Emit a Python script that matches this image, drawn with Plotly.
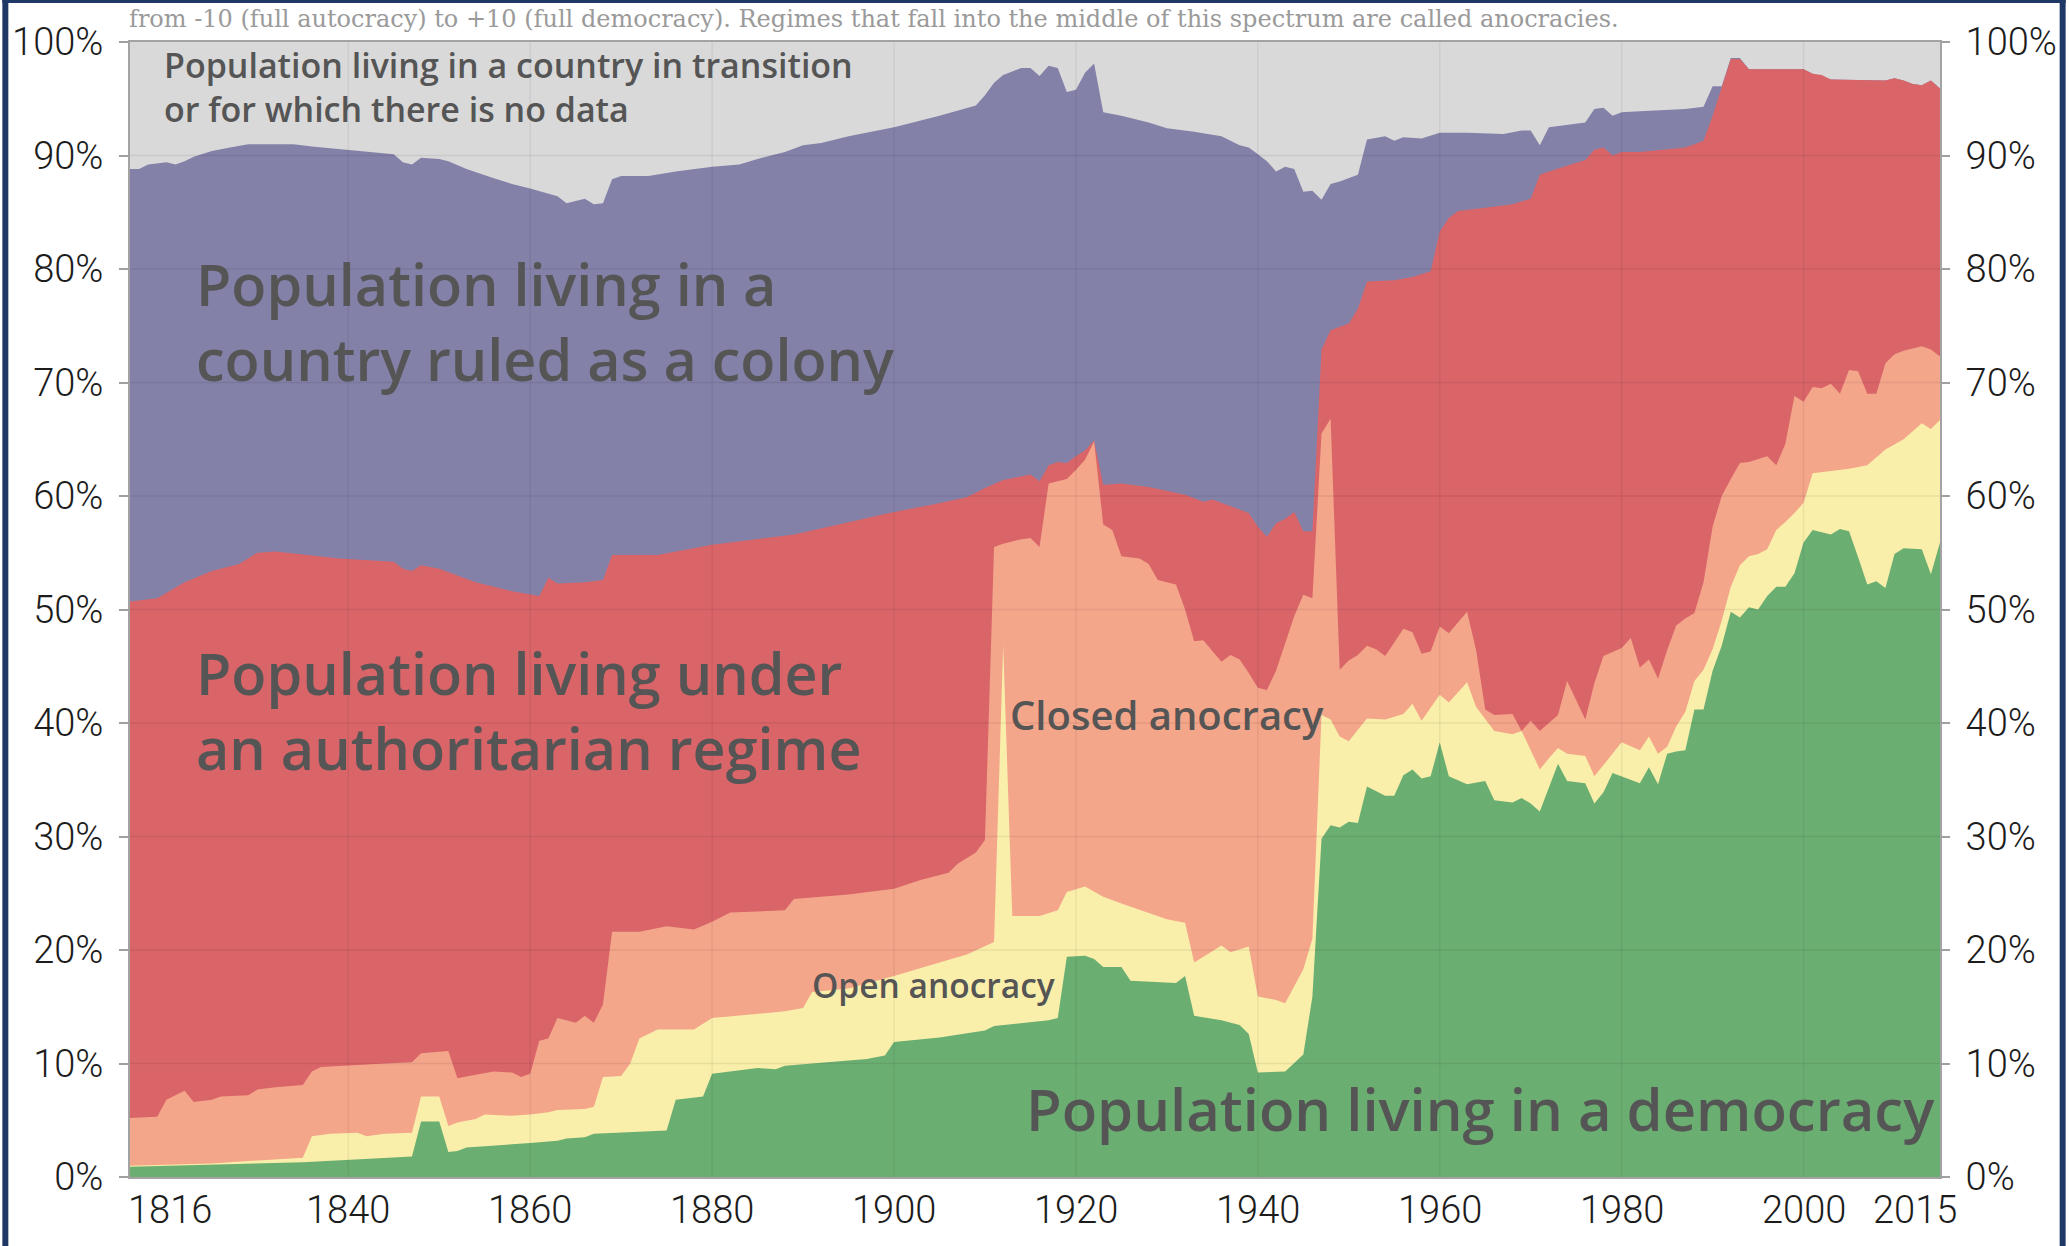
import plotly.graph_objects as go

# ---------------- data (upper edge of each stacked band, % of world population) -------------
colony_top_years = [1816, 1817, 1818, 1820, 1821, 1822, 1823, 1825, 1827, 1829, 1831, 1834, 1836, 1841, 1843,
                    1845, 1846, 1847, 1848, 1850, 1851, 1853, 1856, 1858, 1860, 1862, 1863, 1864, 1866, 1867,
                    1868, 1869, 1870, 1873, 1876, 1880, 1883, 1885, 1888, 1890, 1892, 1895, 1900, 1905, 1909,
                    1910, 1911, 1912, 1914, 1915, 1916, 1917, 1918, 1919, 1920, 1921, 1922, 1923, 1925, 1928,
                    1930, 1933, 1936, 1938, 1939, 1940, 1941, 1942, 1943, 1944, 1945, 1946, 1947, 1948, 1949,
                    1951, 1952, 1954, 1955, 1956, 1958, 1960, 1963, 1967, 1969, 1970, 1971, 1972, 1976, 1977,
                    1978, 1979, 1980, 1982, 1987, 1989, 1990, 1991, 1992, 1993, 1994, 2000, 2001, 2003, 2009,
                    2010, 2011, 2012, 2013, 2014, 2015]
colony_top = [88.8, 88.8, 89.2, 89.4, 89.2, 89.5, 89.9, 90.4, 90.7, 91.0, 91.0, 91.0, 90.8, 90.4, 90.3,
              90.1, 89.4, 89.2, 89.8, 89.7, 89.5, 88.8, 88.0, 87.5, 87.1, 86.6, 86.4, 85.8, 86.2, 85.7,
              85.8, 87.9, 88.2, 88.2, 88.6, 89.0, 89.2, 89.7, 90.3, 90.9, 91.1, 91.7, 92.5, 93.5, 94.4,
              95.3, 96.4, 97.1, 97.7, 97.7, 97.0, 97.9, 97.7, 95.6, 95.8, 97.3, 98.1, 93.8, 93.5, 92.9,
              92.4, 92.1, 91.7, 90.9, 90.7, 90.1, 89.5, 88.6, 89.0, 88.8, 86.8, 86.9, 86.1, 87.5, 87.7,
              88.3, 91.4, 91.7, 91.3, 91.6, 91.5, 92.0, 92.0, 91.9, 92.2, 92.2, 90.9, 92.5, 92.9, 94.1,
              94.2, 93.5, 93.8, 93.9, 94.1, 94.3, 96.1, 96.1, 98.6, 98.6, 97.6, 97.6, 97.2, 96.7, 96.6,
              96.8, 96.6, 96.3, 96.2, 96.6, 95.9]

autocracy_top_years = [1816, 1819, 1822, 1825, 1828, 1830, 1832, 1839, 1845, 1846, 1847, 1848, 1850, 1851,
                       1854, 1858, 1860, 1861, 1862, 1863, 1866, 1868, 1869, 1874, 1880, 1889, 1900, 1904,
                       1908, 1910, 1912, 1915, 1916, 1917, 1918, 1919, 1920, 1921, 1922, 1923, 1925, 1928,
                       1932, 1934, 1935, 1936, 1937, 1939, 1940, 1941, 1942, 1943, 1944, 1945, 1946, 1947,
                       1948, 1950, 1951, 1952, 1955, 1957, 1959, 1960, 1961, 1962, 1965, 1968, 1970, 1971,
                       1972, 1974, 1976, 1977, 1978, 1979, 1980, 1982, 1987, 1988, 1989, 1990, 1991, 1992,
                       1993, 1994, 2000, 2001, 2002, 2003, 2009, 2010, 2011, 2012, 2013, 2014, 2015]
autocracy_top = [50.7, 51.0, 52.4, 53.4, 54.0, 55.0, 55.1, 54.5, 54.2, 53.6, 53.4, 53.9, 53.6, 53.3,
                 52.4, 51.6, 51.3, 51.2, 52.8, 52.3, 52.4, 52.6, 54.8, 54.8, 55.7, 56.6, 58.6, 59.2,
                 59.9, 60.7, 61.4, 61.9, 61.3, 62.7, 63.0, 62.9, 63.5, 64.0, 64.9, 61.0, 61.1, 60.8,
                 60.1, 59.5, 59.7, 59.4, 59.1, 58.5, 57.3, 56.4, 57.6, 58.0, 58.6, 56.9, 56.9, 72.9,
                 74.6, 75.2, 76.5, 78.9, 79.0, 79.3, 79.8, 83.3, 84.5, 85.1, 85.4, 85.7, 86.2, 88.3,
                 88.6, 89.1, 89.6, 90.5, 90.7, 90.0, 90.3, 90.3, 90.7, 91.0, 91.3, 93.5, 96.0, 98.5,
                 98.5, 97.6, 97.6, 97.2, 97.1, 96.7, 96.6, 96.8, 96.6, 96.3, 96.2, 96.6, 95.9]

closed_anocracy_top_years = [1816, 1819, 1820, 1822, 1823, 1825, 1826, 1829, 1830, 1832, 1835, 1836, 1837,
                             1841, 1844, 1847, 1848, 1851, 1852, 1854, 1856, 1858, 1859, 1860, 1861, 1862,
                             1863, 1865, 1866, 1867, 1868, 1869, 1872, 1875, 1878, 1880, 1882, 1888, 1889,
                             1895, 1900, 1903, 1906, 1907, 1909, 1910, 1911, 1912, 1914, 1915, 1916, 1917,
                             1918, 1919, 1920, 1921, 1922, 1923, 1924, 1925, 1927, 1928, 1929, 1931, 1932,
                             1933, 1934, 1935, 1936, 1937, 1938, 1939, 1940, 1941, 1942, 1943, 1944, 1945,
                             1946, 1947, 1948, 1949, 1950, 1951, 1952, 1953, 1954, 1955, 1956, 1957, 1958,
                             1959, 1960, 1961, 1963, 1964, 1965, 1966, 1968, 1969, 1970, 1971, 1973, 1974,
                             1975, 1976, 1977, 1978, 1980, 1981, 1982, 1983, 1984, 1985, 1986, 1987, 1988,
                             1989, 1990, 1991, 1992, 1993, 1994, 1996, 1997, 1998, 1999, 2000, 2001, 2002,
                             2003, 2004, 2005, 2006, 2007, 2008, 2009, 2010, 2011, 2013, 2014, 2015]
closed_anocracy_top = [5.2, 5.3, 6.8, 7.6, 6.6, 6.8, 7.1, 7.2, 7.7, 7.9, 8.1, 9.3, 9.7,
                       9.9, 10.0, 10.1, 10.9, 11.1, 8.7, 9.0, 9.3, 9.2, 8.8, 9.1, 12.0, 12.2,
                       14.0, 13.6, 14.2, 13.6, 15.2, 21.6, 21.6, 22.1, 21.8, 22.5, 23.3, 23.5, 24.5,
                       24.9, 25.4, 26.2, 26.8, 27.6, 28.6, 29.7, 55.5, 55.8, 56.2, 56.3, 55.5, 61.1,
                       61.3, 61.5, 62.3, 63.2, 64.8, 57.5, 57.0, 54.7, 54.5, 54.0, 52.6, 52.2, 50.0,
                       47.2, 47.3, 46.3, 45.4, 46.0, 45.6, 44.4, 43.1, 42.9, 44.6, 47.0, 49.4, 51.3,
                       51.0, 65.5, 66.8, 44.7, 45.5, 46.0, 46.8, 46.5, 45.9, 47.1, 48.3, 48.0, 46.1,
                       46.3, 48.5, 47.9, 49.8, 46.4, 41.2, 40.7, 40.8, 39.3, 40.2, 39.3, 40.7, 43.7,
                       42.0, 40.3, 43.5, 45.9, 46.6, 47.5, 44.9, 45.6, 43.9, 46.4, 48.6, 49.2, 49.7,
                       52.4, 57.3, 60.0, 61.5, 62.9, 63.0, 63.5, 62.7, 64.6, 68.8, 68.3, 69.6, 69.5,
                       69.9, 69.0, 71.1, 71.0, 69.0, 69.0, 71.7, 72.5, 72.8, 73.2, 72.9, 72.3]

open_anocracy_top_years = [1816, 1825, 1831, 1835, 1836, 1838, 1841, 1842, 1844, 1847, 1848, 1850, 1851,
                           1852, 1854, 1855, 1858, 1860, 1862, 1863, 1866, 1867, 1868, 1870, 1871, 1872,
                           1874, 1878, 1880, 1888, 1890, 1891, 1895, 1900, 1905, 1908, 1911, 1912, 1913,
                           1916, 1918, 1919, 1921, 1923, 1925, 1928, 1930, 1932, 1933, 1936, 1937, 1939,
                           1940, 1942, 1943, 1945, 1946, 1947, 1948, 1949, 1950, 1951, 1952, 1954, 1956,
                           1957, 1958, 1960, 1961, 1963, 1964, 1966, 1968, 1969, 1970, 1971, 1972, 1973,
                           1974, 1976, 1977, 1979, 1980, 1982, 1983, 1984, 1985, 1986, 1987, 1988, 1989,
                           1990, 1991, 1992, 1993, 1994, 1995, 1996, 1997, 1998, 1999, 2000, 2001, 2005,
                           2007, 2009, 2011, 2013, 2014, 2015]
open_anocracy_top = [1.0, 1.2, 1.5, 1.7, 3.6, 3.8, 3.9, 3.6, 3.8, 3.9, 7.1, 7.1, 4.5,
                     4.8, 5.1, 5.5, 5.4, 5.5, 5.7, 5.9, 6.0, 6.2, 8.8, 8.9, 10.0, 12.2,
                     13.0, 13.0, 14.0, 14.6, 14.9, 16.3, 16.6, 17.7, 18.9, 19.6, 20.7, 46.9, 23.0,
                     23.0, 23.5, 25.1, 25.6, 24.7, 24.1, 23.3, 22.7, 22.4, 18.9, 20.4, 19.8, 20.3,
                     15.9, 15.6, 15.3, 18.3, 21.0, 40.7, 40.3, 38.8, 38.4, 39.4, 40.4, 40.3, 40.8,
                     41.7, 40.2, 42.5, 41.8, 43.6, 41.4, 39.3, 39.0, 39.3, 37.6, 35.9, 36.9, 37.8,
                     37.3, 37.1, 35.3, 37.3, 38.3, 37.6, 38.8, 37.3, 37.9, 39.7, 41.0, 43.7, 44.7,
                     46.5, 49.0, 52.0, 53.9, 54.7, 54.9, 55.3, 57.0, 57.7, 58.5, 59.4, 62.0, 62.4,
                     62.7, 64.1, 65.0, 66.4, 65.9, 66.7]

democracy_years = [1816, 1825, 1835, 1847, 1848, 1850, 1851, 1852, 1853, 1860, 1863, 1864, 1866, 1867,
                   1875, 1876, 1879, 1880, 1885, 1887, 1888, 1897, 1899, 1900, 1905, 1910, 1911, 1917,
                   1918, 1919, 1921, 1922, 1923, 1925, 1926, 1931, 1932, 1933, 1936, 1938, 1939, 1940,
                   1943, 1945, 1946, 1947, 1948, 1949, 1950, 1951, 1952, 1954, 1955, 1956, 1957, 1958,
                   1959, 1960, 1961, 1963, 1965, 1966, 1968, 1969, 1970, 1971, 1973, 1974, 1976, 1977,
                   1978, 1979, 1980, 1982, 1983, 1984, 1985, 1986, 1987, 1988, 1989, 1990, 1991, 1992,
                   1993, 1994, 1995, 1996, 1997, 1998, 1999, 2000, 2001, 2002, 2003, 2004, 2005, 2006,
                   2007, 2008, 2009, 2010, 2011, 2013, 2014, 2015]
democracy = [0.9, 1.1, 1.3, 1.8, 4.9, 4.9, 2.2, 2.3, 2.6, 3.0, 3.2, 3.4, 3.5, 3.8,
             4.1, 6.8, 7.1, 9.1, 9.6, 9.5, 9.8, 10.4, 10.7, 11.9, 12.3, 12.9, 13.3, 13.8,
             14.0, 19.4, 19.5, 19.2, 18.5, 18.5, 17.3, 17.1, 17.7, 14.2, 13.8, 13.4, 12.6, 9.2,
             9.3, 10.8, 15.9, 29.8, 31.0, 30.8, 31.3, 31.2, 34.4, 33.6, 33.6, 35.4, 35.9, 35.1,
             35.3, 38.3, 35.3, 34.6, 34.9, 33.2, 33.0, 33.4, 32.9, 32.2, 36.4, 34.9, 34.7, 32.9,
             33.9, 35.6, 35.3, 34.7, 36.1, 34.6, 37.3, 37.5, 37.6, 41.2, 41.2, 44.6, 46.8, 49.8,
             49.3, 50.2, 50.0, 51.2, 52.0, 52.0, 53.2, 55.9, 57.0, 56.8, 56.6, 57.1, 56.9, 54.6,
             52.2, 52.5, 51.9, 54.9, 55.4, 55.3, 53.1, 55.9]

band_names = ["Colony", "Autocracy", "Closed anocracy", "Open anocracy", "Democracy"]
band_colors = ["#8481a9", "#d96569", "#f4a68b", "#f9efab", "#6bae72"]
no_data_color = "#d9d9d9"

y_tick_vals = [0, 10, 20, 30, 40, 50, 60, 70, 80, 90, 100]
y_tick_text = ["0%", "10%", "20%", "30%", "40%", "50%", "60%", "70%", "80%", "90%", "100%"]
x_tick_vals = [1816, 1840, 1860, 1880, 1900, 1920, 1940, 1960, 1980, 2000, 2015]
x_tick_text = ["1816", "1840", "1860", "1880", "1900", "1920", "1940", "1960", "1980", "2000", "2015"]

# ---------------- layout geometry (pixels) ----------------
W, H = 2069, 1246
PL, PR, PT, PB = 128, 1943, 42, 1177


def px(x):
    return (x - PL) / (PR - PL)


def py(y):
    return (PB - y) / (PB - PT)


fig = go.Figure()
series = [
    (colony_top_years, colony_top),
    (autocracy_top_years, autocracy_top),
    (closed_anocracy_top_years, closed_anocracy_top),
    (open_anocracy_top_years, open_anocracy_top),
    (democracy_years, democracy),
]
for (xs, ys), name, col in zip(series, band_names, band_colors):
    fig.add_trace(go.Scatter(x=xs, y=ys, name=name, mode="lines", fill="tozeroy",
                             line=dict(width=0, color=col), fillcolor=col,
                             hoverinfo="x+y+name", showlegend=False))

# invisible trace so that the right-hand percentage axis is drawn
fig.add_trace(go.Scatter(x=[democracy_years[0]], y=[0], yaxis="y2", mode="markers",
                         marker=dict(opacity=0), hoverinfo="skip", showlegend=False))

tick_font = dict(family="Roboto, 'Liberation Sans', sans-serif", size=38, color="#1c1c1c", weight=300)
yaxis_common = dict(range=[0, 100], tickvals=y_tick_vals, ticktext=y_tick_text, showgrid=False,
                    zeroline=False, ticks="outside", ticklen=9, tickwidth=1.5, tickcolor="#a0a0a0",
                    tickfont=tick_font, ticklabelstandoff=8, fixedrange=True)

fig.update_layout(
    width=W, height=H,
    margin=dict(l=PL, r=W - PR, t=PT, b=H - PB),
    paper_bgcolor="white",
    plot_bgcolor=no_data_color,
    xaxis=dict(range=[1816, 2015], showgrid=False, zeroline=False, showticklabels=False,
               showline=True, mirror=True, linecolor="#a3a3a3", linewidth=2, fixedrange=True),
    yaxis=dict(**yaxis_common, side="left", showline=True, mirror=True, linecolor="#a3a3a3", linewidth=2),
    yaxis2=dict(**yaxis_common, side="right", overlaying="y", showline=False),
    showlegend=False,
)

shapes = []
# faint grid drawn over the areas
for v in y_tick_vals[1:-1]:
    shapes.append(dict(type="line", xref="paper", yref="y", x0=0, x1=1, y0=v, y1=v,
                       line=dict(color="rgba(0,0,0,0.07)", width=1.5), layer="above"))
for v in x_tick_vals[1:-1]:
    shapes.append(dict(type="line", xref="x", yref="paper", x0=v, x1=v, y0=0, y1=1,
                       line=dict(color="rgba(0,0,0,0.06)", width=1.5), layer="above"))
# dark blue frame of the screenshot
frame = "#1f3866"
shapes.append(dict(type="rect", xref="paper", yref="paper", x0=px(0), x1=px(6), y0=py(H), y1=py(0),
                   fillcolor=frame, line=dict(width=0), layer="above"))
shapes.append(dict(type="rect", xref="paper", yref="paper", x0=px(2063), x1=px(W), y0=py(H), y1=py(0),
                   fillcolor=frame, line=dict(width=0), layer="above"))
shapes.append(dict(type="rect", xref="paper", yref="paper", x0=px(0), x1=px(W), y0=py(3), y1=py(0),
                   fillcolor=frame, line=dict(width=0), layer="above"))
fig.update_layout(shapes=shapes)

label_font = "'Open Sans', 'Noto Sans', sans-serif"
label_color = "#555555"
ann = []


def label(text, x, y, size):
    ann.append(dict(text=text, xref="paper", yref="paper", x=px(x), y=py(y), xanchor="left",
                    yanchor="middle", align="left", showarrow=False,
                    font=dict(family=label_font, size=size, color=label_color, weight=600)))


label("Population living in a country in transition<br>or for which there is no data", 160, 87, 34)
label("Population living in a<br>country ruled as a colony", 192, 321, 57.5)
label("Population living under<br>an authoritarian regime", 192, 710, 57.5)
label("Closed anocracy", 1008, 714, 40)
label("Open anocracy", 810, 985, 33.5)
label("Population living in a democracy", 1024, 1108, 58)

# x tick labels (end labels are pulled inside the plot edges as in the original)
for v, t in zip(x_tick_vals, x_tick_text):
    if v == x_tick_vals[0]:
        anchor, shift = "left", -4
    elif v == x_tick_vals[-1]:
        anchor, shift = "center", -25
    else:
        anchor, shift = "center", 0
    ann.append(dict(text=t, xref="x", yref="paper", x=v, y=py(1210), xanchor=anchor, xshift=shift,
                    yanchor="middle", showarrow=False, font=tick_font))

# sentence at the very top of the screenshot (kept fully visible, clear of the 100% label)
ann.append(dict(text="from -10 (full autocracy) to +10 (full democracy). Regimes that fall into the middle "
                     "of this spectrum are called anocracies.",
                xref="paper", yref="paper", x=px(125), y=py(3), xanchor="left", yanchor="top",
                showarrow=False, font=dict(family="'DejaVu Serif', serif", size=24, color="#9a9a9a")))
fig.update_layout(annotations=ann)

fig.write_html("out.html", config={"displayModeBar": False},
               post_script="document.body.style.margin='0';")
